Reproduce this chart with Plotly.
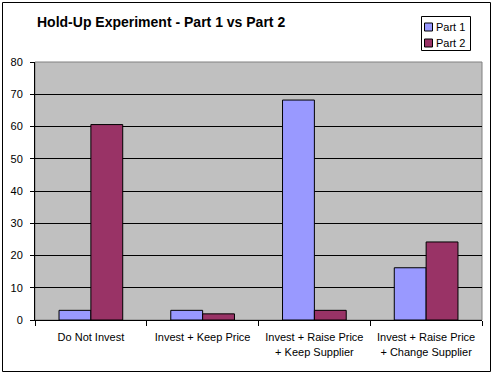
import plotly.graph_objects as go

categories = ["Do Not Invest", "Invest + Keep Price",
              "Invest + Raise Price<br>+ Keep Supplier",
              "Invest + Raise Price<br>+ Change Supplier"]
part1 = [3.0, 3.0, 68.2, 16.2]
part2 = [60.6, 1.9, 3.0, 24.2]
y_ticks = [0, 10, 20, 30, 40, 50, 60, 70, 80]
series_names = ["Part 1", "Part 2"]
series_colors = ["#9999FF", "#993366"]

W, H = 493, 376
L, R, T, B = 35, 11, 62, 56
pw, ph = W - L - R, H - T - B

def px(x):
    return (x - L) / pw

def py(y):
    return (H - B - y) / ph

fig = go.Figure()
for name, vals, col in zip(series_names, [part1, part2], series_colors):
    fig.add_trace(go.Bar(name=name, x=categories, y=vals,
                         marker=dict(color=col, line=dict(color="black", width=1))))

font = "Liberation Sans, Arial, sans-serif"
fig.update_layout(
    width=W, height=H,
    margin=dict(l=L, r=R, t=T, b=B, autoexpand=False),
    paper_bgcolor="white", plot_bgcolor="#C0C0C0",
    barmode="group", bargap=0.43, bargroupgap=0,
    font=dict(family=font, size=11, color="black"),
    showlegend=False,
    title=dict(text="<b>Hold-Up Experiment - Part 1 vs Part 2</b>",
               xref="container", yref="container",
               x=37 / W, y=1 - 22 / H, xanchor="left", yanchor="middle",
               font=dict(size=14, family=font, color="black")),
    xaxis=dict(showline=True, linecolor="black", linewidth=1,
               ticks="outside", tickson="boundaries", ticklen=5,
               tickcolor="black", showgrid=False, tickfont=dict(size=11),
               ticklabelstandoff=7),
    yaxis=dict(range=[0, 80], tickvals=y_ticks, showline=True,
               linecolor="black", linewidth=1, ticks="outside", ticklen=4,
               tickcolor="black", showgrid=True, gridcolor="black",
               gridwidth=1, zeroline=False, tickfont=dict(size=11),
               ticklabelstandoff=5),
)
# plot area border (top/right grey)
fig.add_shape(type="rect", xref="paper", yref="paper", x0=0, x1=1, y0=0, y1=1,
              line=dict(color="#808080", width=1), layer="below")
# outer chart border
fig.add_shape(type="rect", xref="paper", yref="paper",
              x0=px(2.5), x1=px(490.5), y0=py(371.5), y1=py(2.5),
              line=dict(color="black", width=1))
# manual legend
fig.add_shape(type="rect", xref="paper", yref="paper",
              x0=px(421.5), x1=px(470.5), y0=py(50.5), y1=py(16.5),
              line=dict(color="black", width=1), fillcolor="white")
for i, (name, col) in enumerate(zip(series_names, series_colors)):
    yc = 27 + 16 * i
    fig.add_shape(type="rect", xref="paper", yref="paper",
                  x0=px(424.5), x1=px(432.5), y0=py(yc + 4), y1=py(yc - 4),
                  line=dict(color="black", width=1), fillcolor=col)
    fig.add_annotation(text=name, xref="paper", yref="paper",
                       x=px(434), y=py(yc), xanchor="left", yanchor="middle",
                       showarrow=False, font=dict(size=11, family=font))

fig.write_html("out.html", config={"displayModeBar": False},
               post_script="document.body.style.margin='0';document.body.style.overflow='hidden';")
